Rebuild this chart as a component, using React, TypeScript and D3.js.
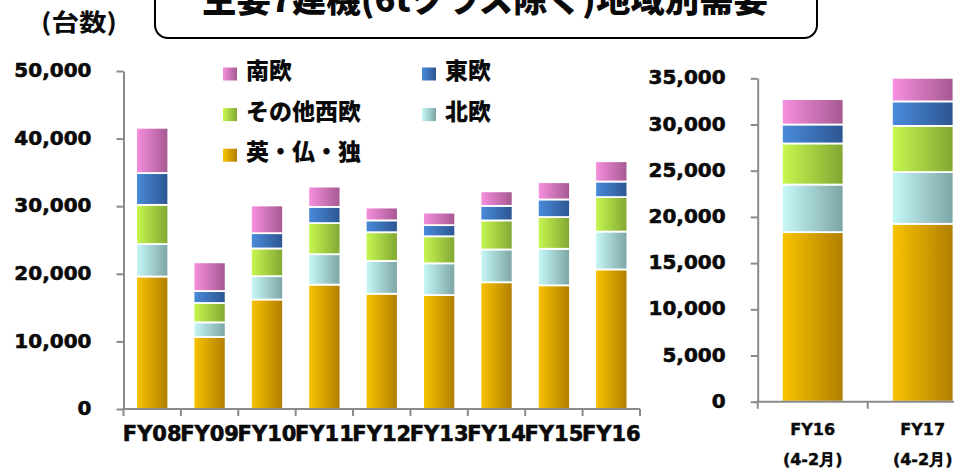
import React, { useEffect, useRef } from "react";
import * as d3 from "d3";

// Full fiscal years (units)
const yearLabels = ["FY08", "FY09", "FY10", "FY11", "FY12", "FY13", "FY14", "FY15", "FY16"];
const ukFranceGermany = [19600, 10650, 16200, 18400, 17050, 16850, 18750, 18300, 20650];
const nordic = [4800, 2170, 3450, 4500, 4850, 4700, 4850, 5400, 5600];
const otherWestern = [5800, 2860, 4100, 4600, 4250, 4000, 4300, 4700, 5100];
const eastern = [4700, 1770, 2260, 2400, 1750, 1650, 2150, 2600, 2300];
const southern = [6700, 4250, 4100, 3000, 1900, 1850, 2150, 2550, 3000];

// April-February (year to date)
const ytdLabels = ["FY16", "FY17"];
const ytdSubLabel = "(4-2月)";
const ukFranceGermanyYtd = [18350, 19250];
const nordicYtd = [5150, 5600];
const otherWesternYtd = [4450, 5000];
const easternYtd = [2050, 2650];
const southernYtd = [2750, 2550];

// bottom to top
const regionNames = ["英・仏・独", "北欧", "その他西欧", "東欧", "南欧"];
const leftTicks = [0, 10000, 20000, 30000, 40000, 50000];
const rightTicks = [0, 5000, 10000, 15000, 20000, 25000, 30000, 35000];

const title = "主要7建機(6tクラス除く)地域別需要";
const unitLabel = "(台数)";

// gradient left -> right per region
const regionColors = [
  ["#f9c400", "#b07d00"],
  ["#c8f9f9", "#7ca4a4"],
  ["#c8f850", "#80a632"],
  ["#4a8cdc", "#2c5590"],
  ["#f890e0", "#a45890"],
];

const numFont = "'DejaVu Sans', Verdana, sans-serif";
const cjkFont = "'Noto Sans CJK JP', 'DejaVu Sans', sans-serif";
const axisColor = "#8a8a8a";
const ink = "#0a0a0a";

const keys = ["r0", "r1", "r2", "r3", "r4"];

// heavier look, closer to Verdana Bold
const boldNum = (sel, size) =>
  sel
    .attr("fill", ink)
    .attr("stroke", ink)
    .attr("stroke-width", 0.6)
    .style("font-family", numFont)
    .style("font-weight", "bold")
    .style("font-size", size);

const drawPanel = (svg, rows, cats, xRange, yMax, yRange, ticks, big) => {
  const x = d3.scaleBand().domain(cats).range(xRange).padding(0);
  const y = d3.scaleLinear().domain([0, yMax]).range(yRange);
  const barW = x.bandwidth() * 0.56;

  const stacked = d3.stack().keys(keys)(rows);

  const g = svg.append("g");

  // bars
  stacked.forEach((layer, i) => {
    g.selectAll(null)
      .data(layer)
      .enter()
      .append("rect")
      .attr("x", (d) => x(d.data.cat) + (x.bandwidth() - barW) / 2)
      .attr("y", (d) => y(d[1]))
      .attr("width", barW)
      .attr("height", (d) => y(d[0]) - y(d[1]))
      .attr("fill", `url(#grad-${i})`)
      .attr("stroke", "#fff")
      .attr("stroke-width", 1.8);
  });

  // y axis
  const yAxis = g
    .append("g")
    .attr("transform", `translate(${xRange[0]},0)`)
    .call(
      d3.axisLeft(y).tickValues(ticks).tickSize(7).tickSizeOuter(0).tickPadding(25).tickFormat(d3.format(","))
    );
  yAxis.select(".domain").attr("stroke", axisColor).attr("stroke-width", 2);
  yAxis.selectAll(".tick line").attr("stroke", axisColor).attr("stroke-width", 2);
  boldNum(yAxis.selectAll(".tick text").attr("dy", "0.28em"), "20px");

  // x axis line + boundary ticks
  g.append("line")
    .attr("x1", xRange[0] - 1)
    .attr("x2", xRange[1])
    .attr("y1", yRange[0])
    .attr("y2", yRange[0])
    .attr("stroke", axisColor)
    .attr("stroke-width", 2);
  const bounds = cats.map((c) => x(c)).concat([xRange[1]]);
  g.selectAll(null)
    .data(bounds)
    .enter()
    .append("line")
    .attr("x1", (d) => d)
    .attr("x2", (d) => d)
    .attr("y1", yRange[0])
    .attr("y2", yRange[0] + 7)
    .attr("stroke", axisColor)
    .attr("stroke-width", 2);

  // category labels
  const labels = g
    .selectAll(null)
    .data(cats)
    .enter()
    .append("text")
    .attr("x", (d) => x(d) + x.bandwidth() / 2)
    .attr("text-anchor", "middle");
  if (big) {
    boldNum(labels.attr("y", 441), "21px").text((d) => d);
  } else {
    boldNum(labels.attr("y", 435), "16px").attr("stroke-width", 0.4).text((d) => d);
    const sub = g
      .selectAll(null)
      .data(cats)
      .enter()
      .append("text")
      .attr("x", (d) => x(d) + x.bandwidth() / 2)
      .attr("y", 465)
      .attr("text-anchor", "middle");
    boldNum(sub, "16px").attr("stroke-width", 0.4).text(ytdSubLabel);
  }
};

const App = () => {
  const svgRef = useRef(null);

  useEffect(() => {
    const svg = d3.select(svgRef.current);
    svg.selectAll("*").remove();

    // gradients
    const defs = svg.append("defs");
    regionColors.forEach((c, i) => {
      const lg = defs.append("linearGradient").attr("id", `grad-${i}`).attr("x1", 0).attr("x2", 1).attr("y1", 0).attr("y2", 0);
      lg.append("stop").attr("offset", "0%").attr("stop-color", c[0]);
      lg.append("stop").attr("offset", "100%").attr("stop-color", c[1]);
    });

    // title box (top cut off, as in the source slide)
    svg
      .append("rect")
      .attr("x", 155)
      .attr("y", -40)
      .attr("width", 662)
      .attr("height", 78)
      .attr("rx", 13)
      .attr("fill", "#fff")
      .attr("stroke", "#000")
      .attr("stroke-width", 2);
    svg
      .append("text")
      .attr("x", 485)
      .attr("y", 12)
      .attr("text-anchor", "middle")
      .attr("textLength", 566)
      .attr("lengthAdjust", "spacingAndGlyphs")
      .style("font-family", cjkFont)
      .style("font-weight", "900")
      .style("font-size", "34px")
      .attr("fill", ink)
      .text(title);

    svg
      .append("text")
      .attr("x", 41)
      .attr("y", 31)
      .attr("textLength", 76)
      .attr("lengthAdjust", "spacingAndGlyphs")
      .style("font-family", cjkFont)
      .style("font-weight", "bold")
      .style("font-size", "24px")
      .attr("fill", ink)
      .text(unitLabel);

    const rows = yearLabels.map((cat, i) => ({
      cat,
      r0: ukFranceGermany[i],
      r1: nordic[i],
      r2: otherWestern[i],
      r3: eastern[i],
      r4: southern[i],
    }));
    const ytdRows = ytdLabels.map((cat, i) => ({
      cat,
      r0: ukFranceGermanyYtd[i],
      r1: nordicYtd[i],
      r2: otherWesternYtd[i],
      r3: easternYtd[i],
      r4: southernYtd[i],
    }));

    drawPanel(svg, rows, yearLabels, [123.5, 640], 50000, [409, 71], leftTicks, true);
    drawPanel(svg, ytdRows, ytdLabels, [757.7, 977.7], 35000, [401.7, 78.3], rightTicks, false);

    // legend: [region index, column, row]
    const legendItems = [
      [4, 0, 0],
      [3, 1, 0],
      [2, 0, 1],
      [1, 1, 1],
      [0, 0, 2],
    ];
    const lg = svg.append("g");
    legendItems.forEach(([ri, col, row]) => {
      const cx = col === 0 ? 223 : 422;
      const cy = 74 + row * 40.6;
      lg.append("rect")
        .attr("x", cx)
        .attr("y", cy - 6.5)
        .attr("width", 14)
        .attr("height", 13)
        .attr("fill", `url(#grad-${ri})`);
      lg.append("text")
        .attr("x", cx + 23)
        .attr("y", cy + 5)
        .style("font-family", cjkFont)
        .style("font-weight", "900")
        .style("font-size", "23px")
        .attr("fill", ink)
        .text(regionNames[ri]);
    });

    return () => {
      svg.selectAll("*").remove();
    };
  }, []);

  return (
    <svg
      ref={svgRef}
      width={954}
      height={468}
      style={{ position: "absolute", left: 0, top: 0, background: "#fff" }}
    ></svg>
  );
};

export default App;
